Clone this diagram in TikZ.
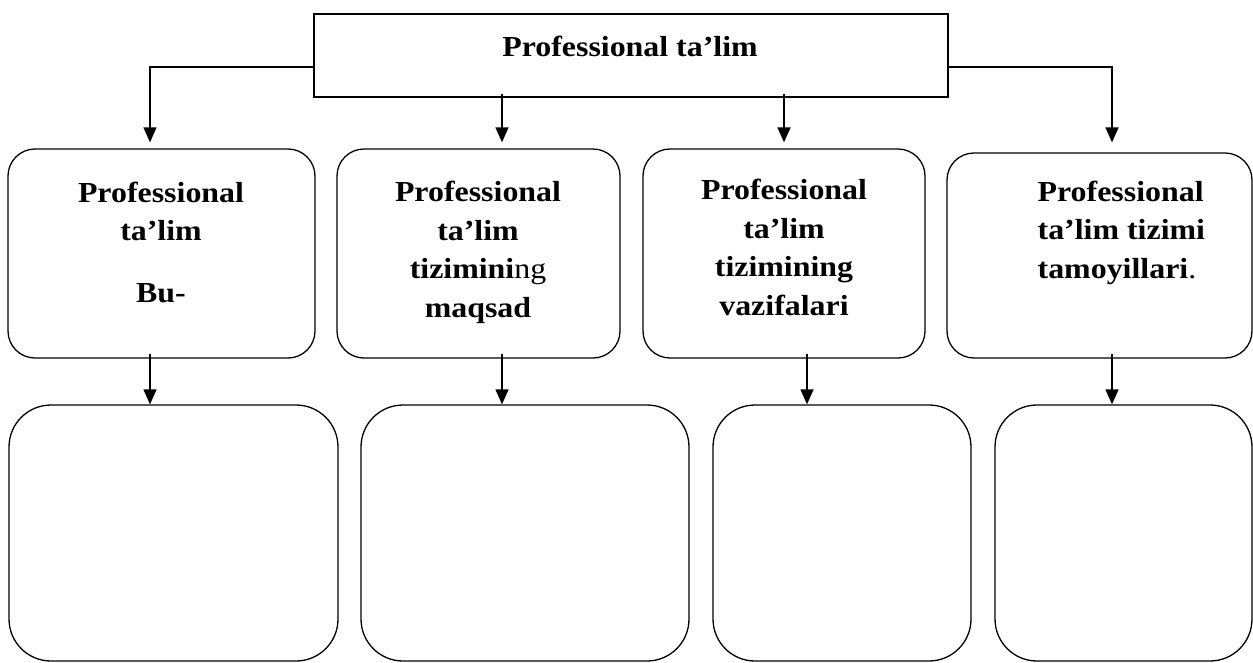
\documentclass[tikz,border=0pt]{standalone}
\usepackage{fontspec}
\setmainfont{Liberation Serif}[FakeStretch=1.1]
\usetikzlibrary{arrows.meta}
\begin{document}
\begin{tikzpicture}[x=1pt,y=-1pt,line width=1.3pt,
  midbox/.style={draw,rectangle,rounded corners=27pt,inner sep=0pt},
  lowbox/.style={draw,rectangle,rounded corners=42pt,inner sep=0pt},
  topbox/.style={draw,rectangle,inner sep=0pt},
  lbl/.style={anchor=base,align=center,inner sep=0pt,font=\bfseries\fontsize{29}{38.5}\selectfont},
  arr/.style={-{Triangle[length=15pt,width=13pt]},line width=1.3pt}]
\useasboundingbox (0,0) rectangle (1253,662);
% boxes
\node[topbox,minimum width=634pt,minimum height=83pt] (top) at (631,55.5) {};
\node[midbox,minimum width=307pt,minimum height=209pt] (b1) at (161.5,253.5) {};
\node[midbox,minimum width=283pt,minimum height=209pt] (b2) at (478.5,253.5) {};
\node[midbox,minimum width=282pt,minimum height=209pt] (b3) at (784,253.5) {};
\node[midbox,minimum width=305pt,minimum height=205pt] (b4) at (1099.5,255.5) {};
\node[lowbox,minimum width=329pt,minimum height=256pt] (b5) at (173.5,533) {};
\node[lowbox,minimum width=328pt,minimum height=256pt] (b6) at (525,533) {};
\node[lowbox,minimum width=258pt,minimum height=256pt] (b7) at (842,533) {};
\node[lowbox,minimum width=257pt,minimum height=256pt] (b8) at (1123.5,533) {};
% texts (anchor = baseline of the last line)
\node[lbl] (t0) at (630,56) {Professional ta’lim};
\node[lbl] (t1) at (161,302) {Professional\\ta’lim\\[23pt]Bu-};
\node[lbl] (t2) at (478,317) {Professional\\ta’lim\\tizimini{\mdseries ng}\\maqsad};
\node[lbl] (t3) at (784,315) {Professional\\ta’lim\\tizimining\\vazifalari};
\node[lbl,anchor=base west,align=left] (t4) at (1037,278) {Professional\\ta’lim tizimi\\tamoyillari{\mdseries .}};
% connectors
\draw[arr] ([yshift=-11.5pt]top.west) -| ([xshift=-11.5pt,yshift=6pt]b1.north);
\draw[arr] ([xshift=-129pt,yshift=4pt]top.south) -- ([xshift=23.5pt,yshift=6pt]b2.north);
\draw[arr] ([xshift=153pt,yshift=4pt]top.south) -- ([yshift=6pt]b3.north);
\draw[arr] ([yshift=-11.5pt]top.east) -| ([xshift=12.5pt,yshift=10pt]b4.north);
\draw[arr] ([xshift=-11.5pt,yshift=5pt]b1.south) -- ([xshift=-23.5pt]b5.north);
\draw[arr] ([xshift=23.5pt,yshift=5pt]b2.south) -- ([xshift=-23pt]b6.north);
\draw[arr] ([xshift=23pt,yshift=5pt]b3.south) -- ([xshift=-35pt]b7.north);
\draw[arr] ([xshift=12.5pt,yshift=5pt]b4.south) -- ([xshift=-11.5pt]b8.north);
\end{tikzpicture}
\end{document}
